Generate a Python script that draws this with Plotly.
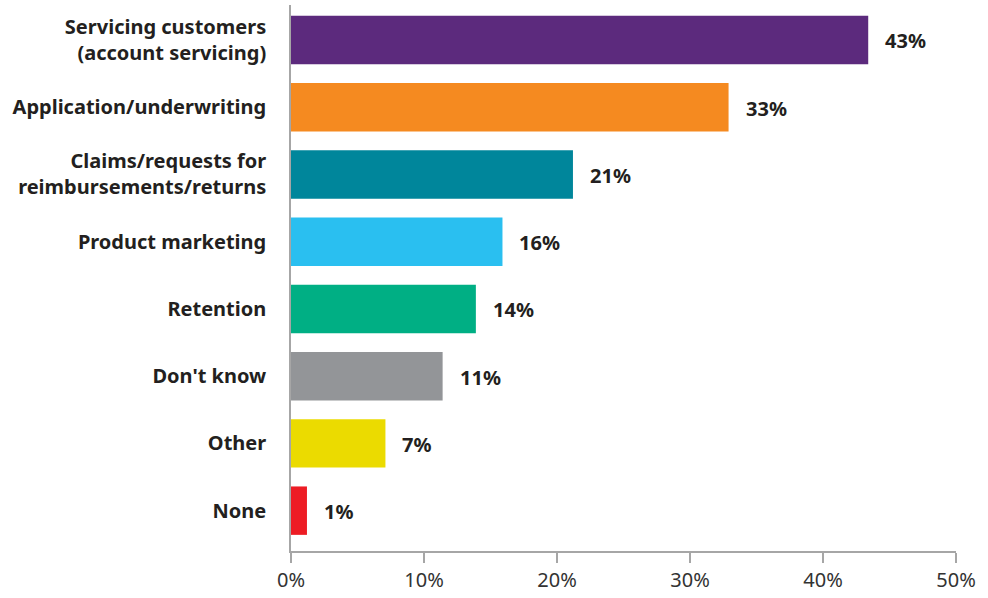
import plotly.graph_objects as go

categories = [
    "Servicing customers<br>(account servicing)",
    "Application/underwriting",
    "Claims/requests for<br>reimbursements/returns",
    "Product marketing",
    "Retention",
    "Don't know",
    "Other",
    "None",
]
values = [43.4, 32.9, 21.2, 15.9, 13.9, 11.4, 7.1, 1.2]
colors = ["#5c2a7d", "#f58a20", "#00869b", "#2abff0", "#00af84", "#939598", "#ebdb00", "#ed1c24"]
x_ticks = [0, 10, 20, 30, 40, 50]
x_tick_labels = ["0%", "10%", "20%", "30%", "40%", "50%"]

positions = list(range(len(categories)))

fig = go.Figure()
fig.add_trace(go.Bar(
    x=values,
    y=positions,
    orientation="h",
    marker=dict(color=colors, line=dict(width=0)),
    width=0.72,
    hoverinfo="skip",
))

for pos, val in zip(positions, values):
    fig.add_annotation(
        x=val, y=pos, text=f"<b>{round(val)}%</b>",
        xanchor="left", yanchor="middle", xshift=15, yshift=-1,
        showarrow=False,
        font=dict(family="Noto Sans", size=20, color="#231f20"),
    )

fig.update_layout(
    width=988, height=598,
    margin=dict(l=291, r=32, t=5, b=45),
    paper_bgcolor="white", plot_bgcolor="white",
    showlegend=False,
)
fig.update_xaxes(
    range=[0, 50],
    tickvals=x_ticks, ticktext=x_tick_labels,
    showgrid=False, zeroline=False,
    showline=True, linecolor="#a6a6a6", linewidth=1.5,
    ticks="outside", ticklen=10, tickcolor="#a6a6a6", tickwidth=1.5,
    tickfont=dict(family="Noto Sans", size=20, color="#333333"),
    ticklabelstandoff=0,
)
fig.update_yaxes(
    range=[7.6, -0.52],
    tickvals=positions,
    ticktext=[f"<b>{c}</b>" for c in categories],
    showgrid=False, zeroline=False,
    showline=True, linecolor="#a6a6a6", linewidth=1.5,
    ticks="", ticklabelstandoff=19,
    tickfont=dict(family="Noto Sans", size=20, color="#231f20"),
)

fig.write_html("out.html")
